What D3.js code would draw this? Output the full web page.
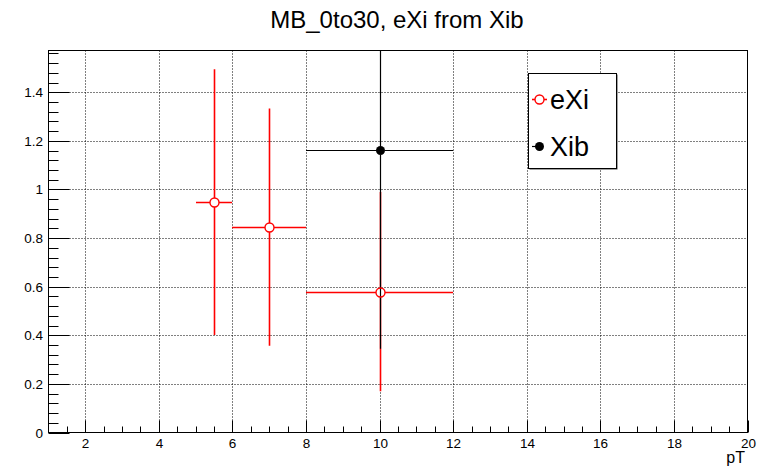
<!DOCTYPE html>
<html>
<head>
<meta charset="utf-8">
<script src="https://cdn.jsdelivr.net/npm/d3@7"></script>
<style>
  html, body { margin: 0; padding: 0; background: #fff; }
  svg { display: block; font-family: "Liberation Sans", Arial, Helvetica, sans-serif; }
</style>
</head>
<body>
<svg id="chart" width="770" height="467"></svg>
<script>
// ---- data ----
const chartTitle = "MB_0to30, eXi from Xib";
const xAxisTitle = "pT";
const seriesNames = ["eXi", "Xib"];
// eXi (red open circles)
const eXiX    = [5.5, 7, 10];
const eXiXErr = [0.5, 1, 2];
const eXiY    = [0.948, 0.845, 0.58];
const eXiYErr = [0.547, 0.488, 0.41];
// Xib (black filled circle)
const xibX    = [10];
const xibXErr = [2];
const xibY    = [1.164];
const xibYErr = [0.819];
// axes
const xDomain = [1, 20];
const yDomain = [0, 1.572];
const xMajorTicks = [2, 4, 6, 8, 10, 12, 14, 16, 18, 20];
const xTickLabels = ["2", "4", "6", "8", "10", "12", "14", "16", "18", "20"];
const yMajorTicks = [0, 0.2, 0.4, 0.6, 0.8, 1, 1.2, 1.4];
const yTickLabels = ["0", "0.2", "0.4", "0.6", "0.8", "1", "1.2", "1.4"];

// ---- layout ----
const L = 48.5, R = 747.5, T = 50.5, B = 432.5;
const svg = d3.select("#chart");
const x = d3.scaleLinear().domain(xDomain).range([L, R]);
const y = d3.scaleLinear().domain(yDomain).range([B, T]);

// minor tick values (derived from axis range, not data)
const xMinor = d3.range(1.5, 20.001, 0.5).filter(v => Math.abs(v / 2 - Math.round(v / 2)) > 1e-6);
const yMinor = d3.range(0.04, 1.5701, 0.04).filter(v => Math.abs(v / 0.2 - Math.round(v / 0.2)) > 1e-6);

// grid
const grid = svg.append("g").attr("stroke", "#000").attr("stroke-width", 1).attr("stroke-dasharray", "1,2");
grid.selectAll("line.vx").data(xMajorTicks.filter(v => v > xDomain[0] && v < xDomain[1]))
  .join("line").attr("x1", d => Math.round(x(d)) + 0.5).attr("x2", d => Math.round(x(d)) + 0.5)
  .attr("y1", T).attr("y2", B);
grid.selectAll("line.hy").data(yMajorTicks.filter(v => v > yDomain[0] && v < yDomain[1]))
  .join("line").attr("y1", d => Math.round(y(d)) + 0.5).attr("y2", d => Math.round(y(d)) + 0.5)
  .attr("x1", L).attr("x2", R);

// axes
const xAxis = d3.axisBottom(x).tickValues(xMajorTicks)
  .tickFormat((d, i) => xTickLabels[i]).tickSize(-12).tickPadding(5.5);
const gx = svg.append("g").attr("transform", `translate(0,${B})`).call(xAxis);
const gxm = svg.append("g").attr("transform", `translate(0,${B})`)
  .call(d3.axisBottom(x).tickValues(xMinor).tickFormat("").tickSize(-6));
const yAxis = d3.axisLeft(y).tickValues(yMajorTicks)
  .tickFormat((d, i) => yTickLabels[i]).tickSize(-21).tickPadding(5.5);
const gy = svg.append("g").attr("transform", `translate(${L},0)`).call(yAxis);
const gym = svg.append("g").attr("transform", `translate(${L},0)`)
  .call(d3.axisLeft(y).tickValues(yMinor).tickFormat("").tickSize(-10));
[gx, gxm, gy, gym].forEach(g => {
  g.select(".domain").remove();
  g.selectAll("line").attr("stroke", "#000");
  g.selectAll("text").attr("fill", "#000").style("font-size", "13.5px")
    .style("font-family", "'Liberation Sans', Arial, sans-serif");
});
gx.selectAll(".tick").attr("transform", d => `translate(${Math.round(x(d)) + 0.5},0)`);
gxm.selectAll(".tick").attr("transform", d => `translate(${Math.round(x(d)) + 0.5},0)`);
gy.selectAll(".tick").attr("transform", d => `translate(0,${Math.round(y(d)) + 0.5})`);
gym.selectAll(".tick").attr("transform", d => `translate(0,${Math.round(y(d)) + 0.5})`);

// frame
svg.append("rect").attr("x", L).attr("y", T).attr("width", R - L).attr("height", B - T)
  .attr("fill", "none").attr("stroke", "#000").attr("stroke-width", 1);

// clip
svg.append("clipPath").attr("id", "clip").append("rect")
  .attr("x", L).attr("y", T).attr("width", R - L).attr("height", B - T);
const plot = svg.append("g").attr("clip-path", "url(#clip)");

const mr = 4.5;
function errorBars(g, xs, xe, ys, ye, color, w) {
  const pts = xs.map((v, i) => ({ x: v, xe: xe[i], y: ys[i], ye: ye[i] }));
  const segs = [];
  pts.forEach(p => {
    const cx = Math.round(x(p.x)) + 0.5, cy = Math.round(y(p.y)) + 0.5;
    segs.push([Math.round(x(p.x - p.xe)), cy, cx - mr, cy]);
    segs.push([cx + mr, cy, Math.round(x(p.x + p.xe)), cy]);
    segs.push([cx, y(p.y + p.ye), cx, cy - mr]);
    segs.push([cx, cy + mr, cx, y(p.y - p.ye)]);
  });
  g.append("g").selectAll("line").data(segs).join("line")
    .attr("x1", d => d[0]).attr("y1", d => d[1]).attr("x2", d => d[2]).attr("y2", d => d[3])
    .attr("stroke", color).attr("stroke-width", w);
  return pts;
}
const redPts = errorBars(plot, eXiX, eXiXErr, eXiY, eXiYErr, "#ff0000", 1.6);
const blackPts = errorBars(plot, xibX, xibXErr, xibY, xibYErr, "#000000", 1.2);
plot.append("g").selectAll("circle").data(redPts).join("circle")
  .attr("cx", d => Math.round(x(d.x)) + 0.5).attr("cy", d => Math.round(y(d.y)) + 0.5).attr("r", mr)
  .attr("fill", "none").attr("stroke", "#ff0000").attr("stroke-width", 1.4);
plot.append("g").selectAll("circle").data(blackPts).join("circle")
  .attr("cx", d => Math.round(x(d.x)) + 0.5).attr("cy", d => Math.round(y(d.y)) + 0.5).attr("r", mr)
  .attr("fill", "#000");

// title
svg.append("text").attr("x", 397).attr("y", 28).attr("text-anchor", "middle")
  .style("font-size", "24px").attr("fill", "#000").text(chartTitle);
// x axis title
svg.append("text").attr("x", 745).attr("y", 463).attr("text-anchor", "end")
  .style("font-size", "16px").attr("fill", "#000").text(xAxisTitle);

// legend
const lg = svg.append("g");
lg.append("rect").attr("x", 529.5).attr("y", 74.5).attr("width", 88).attr("height", 95).attr("fill", "#444");
lg.append("rect").attr("x", 528.5).attr("y", 73.5).attr("width", 88).attr("height", 95)
  .attr("fill", "#fff").attr("stroke", "#000").attr("stroke-width", 1);
const legendColors = ["#ff0000", "#000000"];
const legendY = [99.5, 146.5];
seriesNames.forEach((name, i) => {
  const cy = legendY[i], cx = 539.5, c = legendColors[i];
  if (i === 0) {
    lg.append("line").attr("x1", 532).attr("x2", cx - mr).attr("y1", cy).attr("y2", cy).attr("stroke", c).attr("stroke-width", 1.6);
    lg.append("line").attr("x1", cx + mr).attr("x2", 547).attr("y1", cy).attr("y2", cy).attr("stroke", c).attr("stroke-width", 1.6);
    lg.append("circle").attr("cx", cx).attr("cy", cy).attr("r", mr).attr("fill", "none").attr("stroke", c).attr("stroke-width", 1.4);
  } else {
    lg.append("line").attr("x1", 532).attr("x2", cx).attr("y1", cy).attr("y2", cy).attr("stroke", c).attr("stroke-width", 1.2);
    lg.append("circle").attr("cx", cx).attr("cy", cy).attr("r", mr).attr("fill", c);
  }
  lg.append("text").attr("x", 550).attr("y", cy + 9.5).style("font-size", "27px").attr("fill", "#000").text(name);
});
</script>
</body>
</html>
